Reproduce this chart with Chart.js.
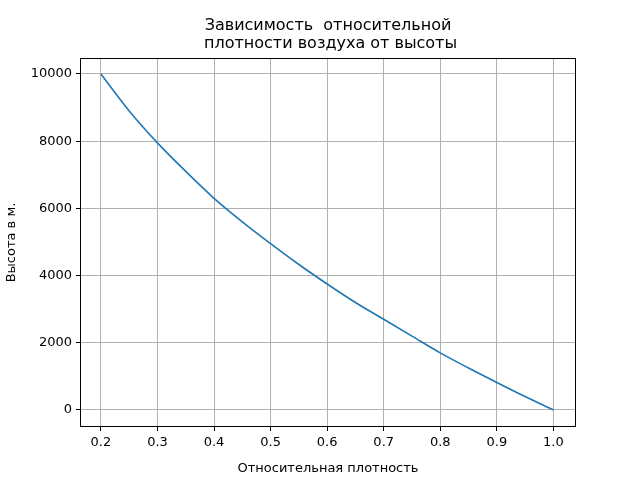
<!DOCTYPE html>
<html><head><meta charset="utf-8">
<script src="https://cdn.jsdelivr.net/npm/chart.js@4"></script>
<style>html,body{margin:0;padding:0;background:#fff}</style>
</head><body>
<canvas id="c" width="640" height="480" style="width:640px;height:480px"></canvas>
<script>
const density = [0.2,0.25,0.3,0.35,0.4,0.45,0.5,0.55,0.6,0.65,0.7,0.75,0.8,0.85,0.9,0.95,1.0];
const height  = [10000,8900,7950,7100,6300,5600,4950,4330,3750,3200,2700,2200,1700,1250,820,400,0];
const xTicks = [0.2,0.3,0.4,0.5,0.6,0.7,0.8,0.9,1.0];
const yTicks = [0,2000,4000,6000,8000,10000];
const titleLines = ["Зависимость  относительной", " плотности воздуха от высоты"];
const font = "DejaVu Sans";

const titlePlugin = {id:'t', afterDraw(ch){
  const c=ch.ctx; c.save(); c.fillStyle='#000'; c.font='16px "'+font+'"'; c.textAlign='center'; c.textBaseline='middle';
  const cx=(ch.chartArea.left+ch.chartArea.right)/2;
  c.fillText(titleLines[0],cx,26); c.fillText(titleLines[1],cx,44);
  const a=ch.chartArea; c.strokeStyle='#000'; c.lineWidth=1; c.strokeRect(a.left+0.5,a.top+0.5,a.right-a.left-1,a.bottom-a.top-1);
  c.restore();
}};
new Chart(document.getElementById('c'),{
  type:'scatter',
  data:{datasets:[{data:density.map((d,i)=>({x:d,y:height[i]})),showLine:true,borderColor:'#1f77b4',borderWidth:1.6,pointRadius:0,cubicInterpolationMode:'monotone'}]},
  options:{responsive:false,animation:false,
    layout:{padding:{left:0,right:64,top:58,bottom:0}},
    plugins:{legend:{display:false},tooltip:{enabled:false}},
    scales:{
      x:{type:'linear',min:0.163,max:1.04,
        afterBuildTicks:s=>{s.ticks=xTicks.map(v=>({value:v}));},
        afterFit:s=>{s.height=53;},
        ticks:{color:'#000',font:{family:font,size:13},callback:v=>v.toFixed(1),maxRotation:0,padding:4},
        grid:{color:'#b0b0b0',tickColor:'#000',tickLength:4,drawTicks:true},border:{display:false},
        title:{display:true,text:'Относительная плотность',color:'#000',font:{family:font,size:13},padding:{top:-3}}},
      y:{type:'linear',min:-506,max:10476,
        afterBuildTicks:s=>{s.ticks=yTicks.map(v=>({value:v}));},
        afterFit:s=>{s.width=80;},
        ticks:{color:'#000',font:{family:font,size:13},callback:v=>String(v),padding:4},
        grid:{color:'#b0b0b0',tickColor:'#000',tickLength:4},border:{display:false},
        title:{display:true,text:'Высота в м.',color:'#000',font:{family:font,size:13},padding:{bottom:0}}}
    }},
  plugins:[titlePlugin]
});
</script></body></html>
